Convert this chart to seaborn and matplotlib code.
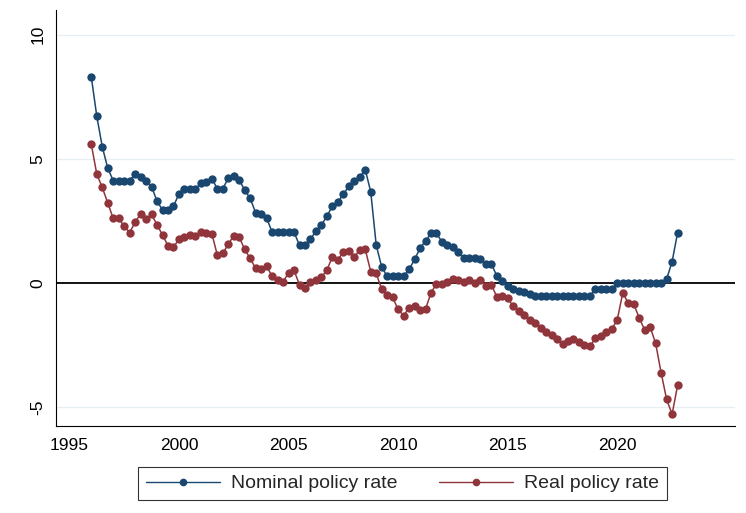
import numpy as np
import pandas as pd
import matplotlib
matplotlib.use("Agg")
import matplotlib.pyplot as plt
from matplotlib.lines import Line2D
import seaborn as sns

# Quarterly observations, 1996Q1 - 2022Q4
quarters = 1996 + np.arange(108) / 4.0

nominal_rate = [
    8.30, 6.72, 5.49, 4.63, 4.12, 4.12, 4.12, 4.12, 4.39, 4.28,
    4.12, 3.88, 3.30, 2.94, 2.94, 3.10, 3.58, 3.77, 3.77, 3.80,
    4.01, 4.05, 4.20, 3.80, 3.80, 4.22, 4.31, 4.15, 3.74, 3.41,
    2.83, 2.80, 2.62, 2.05, 2.05, 2.05, 2.05, 2.05, 1.52, 1.52,
    1.78, 2.08, 2.34, 2.69, 3.10, 3.27, 3.57, 3.90, 4.10, 4.25,
    4.57, 3.67, 1.53, 0.65, 0.27, 0.27, 0.27, 0.27, 0.55, 0.95,
    1.40, 1.70, 2.00, 2.00, 1.66, 1.53, 1.44, 1.26, 1.00, 1.00,
    1.00, 0.97, 0.78, 0.78, 0.29, 0.09, -0.12, -0.24, -0.32, -0.34,
    -0.44, -0.51, -0.51, -0.51, -0.51, -0.51, -0.51, -0.51, -0.51, -0.51,
    -0.51, -0.51, -0.25, -0.25, -0.25, -0.25, 0.00, 0.00, 0.00, 0.00,
    0.00, 0.00, 0.00, 0.00, 0.00, 0.16, 0.86, 2.02,
]

real_rate = [
    5.59, 4.39, 3.85, 3.23, 2.60, 2.60, 2.29, 2.03, 2.45, 2.79,
    2.59, 2.76, 2.35, 1.93, 1.51, 1.45, 1.76, 1.86, 1.93, 1.89,
    2.04, 2.00, 1.99, 1.13, 1.20, 1.56, 1.91, 1.84, 1.36, 0.99,
    0.59, 0.55, 0.67, 0.28, 0.12, 0.05, 0.41, 0.52, -0.08, -0.21,
    0.05, 0.12, 0.23, 0.52, 1.06, 0.93, 1.26, 1.30, 1.06, 1.33,
    1.36, 0.46, 0.39, -0.25, -0.46, -0.58, -1.06, -1.31, -1.00, -0.93,
    -1.10, -1.05, -0.39, -0.03, -0.04, 0.05, 0.15, 0.12, 0.05, 0.12,
    0.01, 0.13, -0.12, -0.06, -0.55, -0.52, -0.62, -0.93, -1.13, -1.29,
    -1.49, -1.62, -1.82, -1.96, -2.09, -2.27, -2.45, -2.32, -2.27, -2.36,
    -2.49, -2.54, -2.23, -2.15, -1.96, -1.86, -1.47, -0.39, -0.81, -0.85,
    -1.40, -1.89, -1.77, -2.43, -3.61, -4.68, -5.28, -4.12,
]

series_names = ["Nominal policy rate", "Real policy rate"]
series_colors = ["#1a476f", "#90353b"]
x_ticks = [1995, 2000, 2005, 2010, 2015, 2020]
y_ticks = [-5, 0, 5, 10]

df = pd.concat([
    pd.DataFrame({"date": quarters, "rate": nominal_rate, "series": series_names[0]}),
    pd.DataFrame({"date": quarters, "rate": real_rate, "series": series_names[1]}),
], ignore_index=True)

sns.set_style("white")
plt.rcParams["font.family"] = ["Liberation Sans", "DejaVu Sans"]
plt.rcParams["axes.unicode_minus"] = False

fig = plt.figure(figsize=(7.46, 5.13), dpi=100)
ax = fig.add_axes([56 / 746, 1 - 425.7 / 513, (735 - 56) / 746, (425.7 - 10) / 513])

# faint horizontal grid and the zero reference line
for yv in [-5, 5, 10]:
    ax.axhline(yv, color="#e6eef1", lw=0.9, zorder=0)
ax.axhline(0, color="black", lw=1.3, zorder=1.5)

palette = dict(zip(series_names, series_colors))
sns.lineplot(data=df, x="date", y="rate", hue="series", palette=palette,
             marker="o", markersize=6.0, markeredgewidth=0, linewidth=1.1,
             legend=False, ax=ax, zorder=3)

ax.set_xlim(1994.39, 2025.37)
ax.set_ylim(-5.74, 10.99)
ax.set_xticks(x_ticks)
ax.set_yticks(y_ticks)
ax.set_xlabel("")
ax.set_ylabel("")

for side in ["top", "right"]:
    ax.spines[side].set_visible(False)
for side in ["left", "bottom"]:
    ax.spines[side].set_color("black")
    ax.spines[side].set_linewidth(0.8)

ax.tick_params(axis="both", which="major", direction="out", length=4.5,
               width=0.8, color="black", labelsize=12.5, labelcolor="black")
ax.tick_params(axis="y", pad=3)
ax.tick_params(axis="x", pad=4)
for lab in ax.get_yticklabels():
    lab.set_rotation(90)
    lab.set_va("center")

handles = [Line2D([0], [0], color=c, lw=1.0, marker="o", markersize=5.5,
                  markeredgewidth=0) for c in series_colors]
leg = fig.legend(handles, series_names, loc="center", ncol=2,
                 bbox_to_anchor=(402.5 / 746, 1 - 483.5 / 513),
                 bbox_transform=fig.transFigure, frameon=True, fancybox=False,
                 fontsize=14, handlelength=3.8, handletextpad=0.6,
                 columnspacing=2.1, borderpad=0.4)
leg.get_frame().set_edgecolor("black")
leg.get_frame().set_linewidth(0.8)

fig.savefig("out.png", dpi=100, facecolor="white")
